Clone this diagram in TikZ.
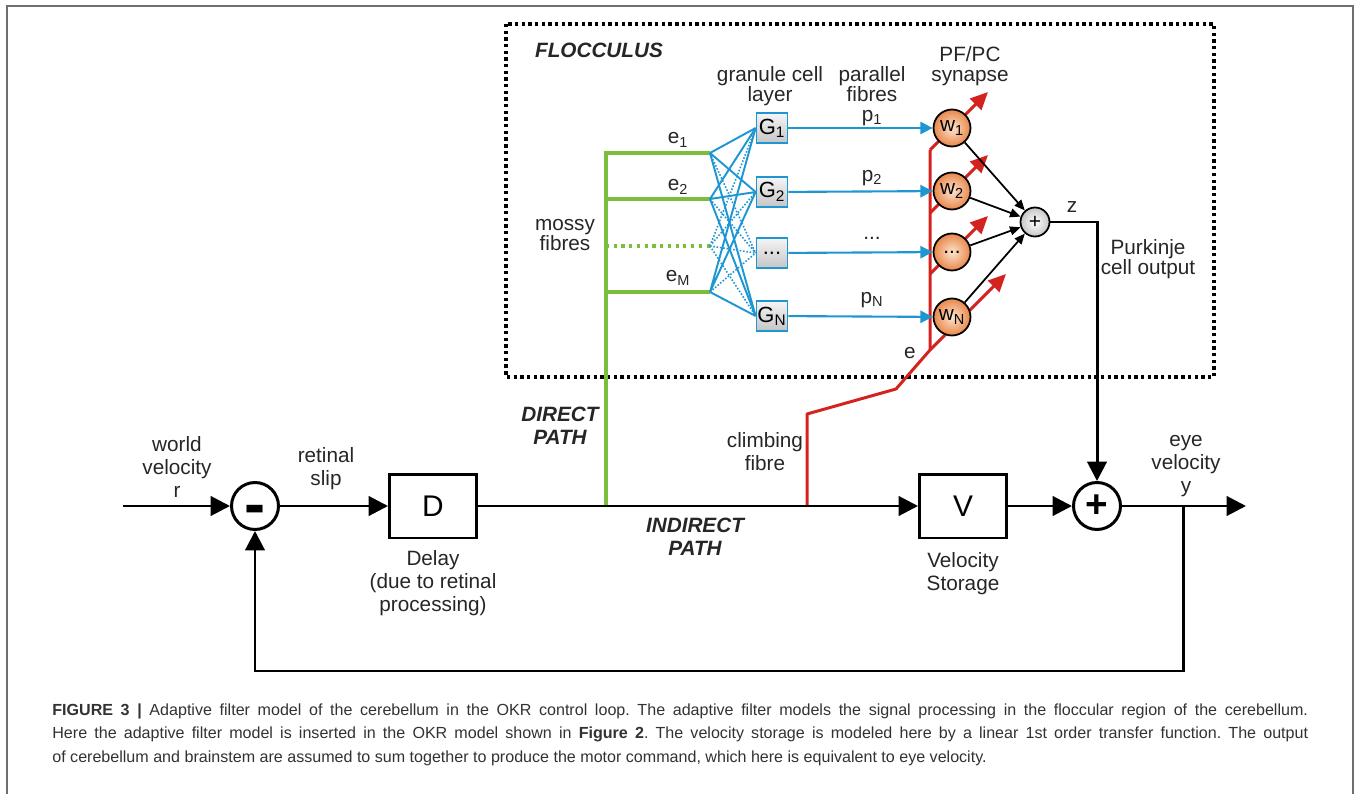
\documentclass[tikz,border=0pt]{standalone}
\usepackage{fontspec}
\setmainfont{Liberation Sans}
\usetikzlibrary{arrows.meta}

\definecolor{mfgreen}{RGB}{122,190,60}
\definecolor{pfblue}{RGB}{30,150,210}
\definecolor{cfred}{RGB}{212,35,30}
\definecolor{wlight}{RGB}{253,228,205}
\definecolor{wdark}{RGB}{232,135,75}
\definecolor{framegray}{RGB}{110,110,110}
\definecolor{captxt}{RGB}{50,50,50}

\begin{document}
\begin{tikzpicture}[x=0.02cm, y=-0.02cm,
    lab/.style={font=\fontsize{11.8}{13}\selectfont, text=black!85, align=center, inner sep=0pt},
    flab/.style={font=\fontsize{11.8}{11.3}\selectfont, text=black!85, align=center, inner sep=0pt},
    pathlab/.style={font=\fontsize{11.8}{13}\selectfont\bfseries\itshape, text=black!85, align=center, inner sep=0pt},
    blk/.style={draw, line width=1.7pt, minimum width=1.74cm, minimum height=1.28cm, font=\fontsize{17}{17}\selectfont},
    sumc/.style={circle, draw, line width=1.7pt, minimum size=0.94cm, inner sep=0pt},
    gran/.style={draw=pfblue, line width=1pt, top color=gray!8, bottom color=gray!45, minimum width=0.62cm, minimum height=0.6cm, inner sep=0pt, font=\fontsize{12.5}{13}\selectfont},
    wgt/.style={circle, draw, line width=1pt, inner color=wlight, outer color=wdark, minimum size=0.74cm, inner sep=0pt, font=\fontsize{11.8}{13}\selectfont},
    psum/.style={circle, draw, line width=1pt, inner color=white, outer color=gray!45, minimum size=0.58cm, inner sep=0pt, font=\fontsize{12}{12}\selectfont},
    flow/.style={line width=1.7pt, -{Triangle[length=11pt,width=11pt]}},
    mf/.style={draw=mfgreen, line width=1.8pt},
    pf/.style={draw=pfblue, line width=1.1pt},
    cf/.style={draw=cfred, line width=1.7pt, line join=round},
    pcarrow/.style={line width=1pt, -{Triangle[length=6pt,width=5pt]}}
  ]
  \useasboundingbox (0,0) rectangle (1360,794);
  \draw[framegray, line width=1.1pt] (7,800) -- (7,6) -- (1353,6) -- (1353,800);
  \draw[line width=1.9pt, dash pattern=on 1.9pt off 1.9pt] (506,24) rectangle (1214,377);

  \coordinate (inp) at (123,506);
  \coordinate (outp) at (1246,506);
  \coordinate (fb) at (1183,506);
  \coordinate (bot) at (0,671);
  \coordinate (gJ) at (606,506);
  \coordinate (cJ) at (807,506);
  \coordinate (c1) at (807,414);
  \coordinate (c2) at (896,389);
  \coordinate (cE) at (930,350);
  \coordinate (E1) at (710,153);
  \coordinate (E2) at (710,199);
  \coordinate (E3) at (710,246);
  \coordinate (EM) at (710,292);

  % climbing fibre and the red teaching arrows, under the weights
  \coordinate (r1) at (930,150);
  \coordinate (r2) at (930,213);
  \coordinate (r3) at (930,274);
  \coordinate (t1) at (988,92);
  \coordinate (t2) at (988,155);
  \coordinate (t3) at (988,216);
  \coordinate (tN) at (1006,274);
  \draw[cf] (cJ) -- (c1) -- (c2) -- (cE) -- (r1);
  \draw[cf, -{Triangle[length=10pt,width=9pt]}] (r1) -- (t1);
  \draw[cf, -{Triangle[length=10pt,width=9pt]}] (r2) -- (t2);
  \draw[cf, -{Triangle[length=10pt,width=9pt]}] (r3) -- (t3);
  \draw[cf, -{Triangle[length=10pt,width=9pt]}] (cE) -- (tN);

  \node[sumc] (sub) at (255,506) {};
  \node[font=\fontsize{36}{36}\selectfont\bfseries, inner sep=0pt] (subsign) at (255,515) {-};
  \node[blk] (D) at (433,506) {D};
  \node[blk] (V) at (963,506) {V};
  \node[sumc, font=\fontsize{22}{22}\selectfont\bfseries] (add) at (1097,506) {+};

  \node[gran] (G1) at (772,128) {G\textsubscript{1}};
  \node[gran] (G2) at (772,192) {G\textsubscript{2}};
  \node[gran] (G3) at (772,253) {...};
  \node[gran] (GN) at (772,316) {G\textsubscript{N}};
  \node[wgt] (W1) at (952,128) {w\textsubscript{1}};
  \node[wgt] (W2) at (952,191) {w\textsubscript{2}};
  \node[wgt] (W3) at (952,252) {...};
  \node[wgt] (WN) at (952,317) {w\textsubscript{N}};
  \node[psum] (S) at (1035,222) {+};

  \node[pathlab] (FL) at (599,50) {FLOCCULUS};
  \node[flab] (GL) at (770,86) {granule cell\\layer};
  \node[flab] (PL) at (872,96) {parallel\\fibres\\p\textsubscript{1}};
  \node[flab] (SL) at (970,66) {PF/PC\\synapse};
  \node[flab] (ML) at (565,235) {mossy\\fibres};
  \node[flab] (PCL) at (1148,259) {Purkinje\\cell output};
  \node[flab] (ZL) at (1072,207) {z};
  \node[flab] (EL) at (910,353) {e};
  \node[flab] (E1L) at (678,140) {e\textsubscript{1}};
  \node[flab] (E2L) at (678,187) {e\textsubscript{2}};
  \node[flab] (EML) at (678,278) {e\textsubscript{M}};
  \node[flab] (P2L) at (872,178) {p\textsubscript{2}};
  \node[flab] (P3L) at (872,238) {...};
  \node[flab] (PNL) at (872,300) {p\textsubscript{N}};

  \node[pathlab] (DL) at (560,426) {DIRECT\\PATH};
  \node[pathlab] (IL) at (695,537) {INDIRECT\\PATH};
  \node[lab] (CL) at (765,452) {climbing\\fibre};
  \node[lab] (RL) at (177,467) {world\\velocity\\r};
  \node[lab] (SLL) at (326,469) {retinal\\slip};
  \node[lab] (DLL) at (433,583) {Delay\\(due to retinal\\processing)};
  \node[lab] (VL) at (963,574) {Velocity\\Storage};
  \node[lab] (YL) at (1186,466) {eye\\velocity\\y};

  % mossy fibres
  \draw[mf] (gJ) -- (gJ |- E1) -- (E1);
  \draw[mf] (gJ |- E2) -- (E2);
  \draw[mf] (gJ |- EM) -- (EM);
  \draw[mf, dash pattern=on 1.8pt off 2.6pt] (gJ |- E3) -- (E3);

  % granule cell layer
  \draw[pf] (E1) -- (G1.west) (E1) -- (G2.west) (E1) -- (GN.west);
  \draw[pf] (E2) -- (G1.west) (E2) -- (G2.west) (E2) -- (GN.west);
  \draw[pf] (EM) -- (G1.west) (EM) -- (G2.west) (EM) -- (GN.west);
  \draw[pf, line width=0.9pt, densely dotted] (E1) -- (G3.west) (E2) -- (G3.west) (EM) -- (G3.west);
  \draw[pf, line width=0.9pt, densely dotted] (E3) -- (G1.west) (E3) -- (G2.west) (E3) -- (G3.west) (E3) -- (GN.west);

  % parallel fibres
  \draw[pf, line width=1.2pt, -{Triangle[length=7pt,width=7pt]}] (G1) -- (W1);
  \draw[pf, line width=1.2pt, -{Triangle[length=7pt,width=7pt]}] (G2) -- (W2);
  \draw[pf, line width=1.2pt, -{Triangle[length=7pt,width=7pt]}] (G3) -- (W3);
  \draw[pf, line width=1.2pt, -{Triangle[length=7pt,width=7pt]}] (GN) -- (WN);

  \draw[pcarrow] (W1) -- (S);
  \draw[pcarrow] (W2) -- (S);
  \draw[pcarrow] (W3) -- (S);
  \draw[pcarrow] (WN) -- (S);

  % OKR loop
  \draw[flow] (inp) -- (sub);
  \draw[flow] (sub) -- (D);
  \draw[flow] (D) -- (V);
  \draw[flow] (V) -- (add);
  \draw[flow] (add) -- (outp);
  \draw[flow] (S) -| (add);
  \draw[flow] (fb) -- (fb |- bot) -| (sub);

  \node[anchor=north west, text width=25.12cm, align=justify, inner sep=0pt,
        font=\fontsize{9.15}{13.6}\selectfont\frenchspacing, text=captxt] (cap) at (52,703)
  {\textbf{FIGURE 3 |} Adaptive filter model of the cerebellum in the OKR control loop. The adaptive filter models the signal processing in the floccular region of the cerebellum.\linebreak
   Here the adaptive filter model is inserted in the OKR model shown in \textbf{Figure 2}. The velocity storage is modeled here by a linear 1st order transfer function. The output\linebreak
   of cerebellum and brainstem are assumed to sum together to produce the motor command, which here is equivalent to eye velocity.};
\end{tikzpicture}
\end{document}
